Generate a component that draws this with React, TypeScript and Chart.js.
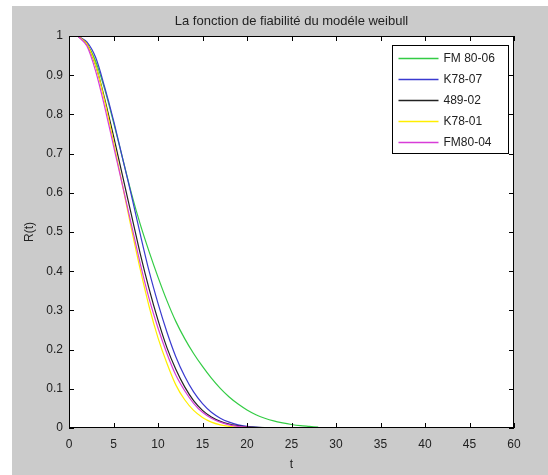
import React, { useEffect, useRef } from "react";
import { Chart, registerables } from "chart.js";

Chart.register(...registerables);

const titleText = "La fonction de fiabilité du modéle weibull";
const xAxisTitle = "t";
const yAxisTitle = "R(t)";
const xTickLabels = ["0", "5", "10", "15", "20", "25", "30", "35", "40", "45", "60"];
const yTickLabels = ["0", "0.1", "0.2", "0.3", "0.4", "0.5", "0.6", "0.7", "0.8", "0.9", "1"];

const seriesLabels = ["FM 80-06", "K78-07", "489-02", "K78-01", "FM80-04"];
const seriesColors = ["#33cc44", "#3a3ad0", "#222222", "#ffee00", "#d83cd8"];

const tFM8006 = [1, 2, 3, 4, 5, 6, 7, 8, 9, 10, 11, 12, 13, 14, 15, 16, 17, 18, 19, 20, 21, 22, 23, 24, 25, 26, 27, 28];
const rFM8006 = [1.0, 0.98, 0.935, 0.865, 0.78, 0.69, 0.6, 0.52, 0.45, 0.385, 0.325, 0.272, 0.228, 0.19, 0.157, 0.127, 0.101, 0.079, 0.061, 0.046, 0.034, 0.025, 0.018, 0.013, 0.009, 0.006, 0.004, 0.002];

const tK7807 = [1, 2, 3, 4, 5, 6, 7, 8, 9, 10, 11, 12, 13, 14, 15, 16, 17, 18, 19, 20, 21, 22];
const rK7807 = [1.0, 0.985, 0.945, 0.87, 0.785, 0.69, 0.595, 0.495, 0.4, 0.318, 0.245, 0.182, 0.132, 0.092, 0.062, 0.04, 0.025, 0.015, 0.008, 0.004, 0.002, 0.001];

const t48902 = [1, 2, 3, 4, 5, 6, 7, 8, 9, 10, 11, 12, 13, 14, 15, 16, 17, 18, 19, 20, 22, 26, 31];
const r48902 = [1.0, 0.98, 0.925, 0.84, 0.745, 0.645, 0.545, 0.445, 0.355, 0.275, 0.205, 0.15, 0.105, 0.07, 0.045, 0.028, 0.017, 0.01, 0.006, 0.003, 0.001, 0.0005, 0];

const tK7801 = [1, 2, 3, 4, 5, 6, 7, 8, 9, 10, 11, 12, 13, 14, 15, 16, 17, 18, 19, 20, 46];
const rK7801 = [1.0, 0.98, 0.925, 0.835, 0.73, 0.62, 0.51, 0.405, 0.31, 0.23, 0.165, 0.11, 0.072, 0.045, 0.027, 0.015, 0.008, 0.004, 0.002, 0.001, 0.001];

const tFM8004 = [1, 2, 3, 4, 5, 6, 7, 8, 9, 10, 11, 12, 13, 14, 15, 16, 17, 18, 19, 20, 21];
const rFM8004 = [1.0, 0.975, 0.91, 0.82, 0.72, 0.62, 0.52, 0.42, 0.33, 0.255, 0.19, 0.135, 0.095, 0.063, 0.04, 0.025, 0.015, 0.008, 0.004, 0.002, 0.001];

const seriesT = [tFM8006, tK7807, t48902, tK7801, tFM8004];
const seriesR = [rFM8006, rK7807, r48902, rK7801, rFM8004];

const FONT = "'Liberation Sans', Arial, sans-serif";

const framePlugin = {
  id: "matlabFrame",
  beforeDraw(chart: any) {
    const { ctx, width, height, chartArea: ca } = chart;
    ctx.save();
    ctx.fillStyle = "#ffffff";
    ctx.fillRect(0, 0, width, height);
    ctx.fillStyle = "#cbcbcb";
    ctx.fillRect(12, 6, width - 12, height - 6);
    ctx.fillStyle = "#ffffff";
    ctx.fillRect(ca.left, ca.top, ca.right - ca.left, ca.bottom - ca.top);
    ctx.restore();
  },
  afterDraw(chart: any) {
    const { ctx, chartArea: ca } = chart;
    const xs = chart.scales.x;
    const ys = chart.scales.y;
    ctx.save();
    ctx.strokeStyle = "#000000";
    ctx.lineWidth = 1;
    ctx.strokeRect(Math.round(ca.left) + 0.5, Math.round(ca.top) + 0.5, Math.round(ca.right - ca.left) - 1, Math.round(ca.bottom - ca.top) - 1);
    const tl = 5;
    ctx.beginPath();
    xs.ticks.forEach((tk: any) => {
      const px = Math.round(xs.getPixelForValue(tk.value)) + 0.5;
      ctx.moveTo(px, ca.bottom);
      ctx.lineTo(px, ca.bottom - tl);
      ctx.moveTo(px, ca.top);
      ctx.lineTo(px, ca.top + tl);
    });
    ys.ticks.forEach((tk: any) => {
      const py = Math.round(ys.getPixelForValue(tk.value)) + 0.5;
      ctx.moveTo(ca.left, py);
      ctx.lineTo(ca.left + tl, py);
      ctx.moveTo(ca.right, py);
      ctx.lineTo(ca.right - tl, py);
    });
    ctx.stroke();

    // legend box inside plot area (top-right)
    const ds = chart.data.datasets;
    const boxW = 116;
    const rowH = 21;
    const boxH = 12 + (ds.length - 1) * rowH + 12;
    const bx = Math.round(ca.right - 6 - boxW) + 0.5;
    const by = Math.round(ca.top + 9) + 0.5;
    ctx.fillStyle = "#ffffff";
    ctx.fillRect(bx, by, boxW, boxH);
    ctx.strokeStyle = "#000000";
    ctx.strokeRect(bx, by, boxW, boxH);
    ctx.font = "12px " + FONT;
    ctx.textBaseline = "middle";
    ctx.textAlign = "left";
    ds.forEach((d: any, i: number) => {
      const yy = Math.round(by + 12 + i * rowH) + 0.5;
      ctx.strokeStyle = d.borderColor;
      ctx.lineWidth = 1.3;
      ctx.beginPath();
      ctx.moveTo(bx + 6, yy);
      ctx.lineTo(bx + 46, yy);
      ctx.stroke();
      ctx.fillStyle = "#222222";
      ctx.fillText(d.label, bx + 51, yy);
    });
    ctx.restore();
  },
};

export default function App() {
  const ref = useRef<HTMLCanvasElement | null>(null);
  useEffect(() => {
    if (!ref.current) return;
    const datasets = seriesLabels.map((label, i) => ({
      label,
      data: seriesT[i].map((t, j) => ({ x: t, y: seriesR[i][j] })),
      borderColor: seriesColors[i],
      backgroundColor: seriesColors[i],
      borderWidth: 1.2,
      pointRadius: 0,
      tension: 0.3,
      fill: false,
      order: seriesLabels.length - i,
    }));
    const chart = new Chart(ref.current, {
      type: "line",
      data: { datasets },
      plugins: [framePlugin],
      options: {
        animation: false,
        responsive: false,
        devicePixelRatio: 1,
        layout: { padding: { left: 0, right: 34, top: 0, bottom: 0 } },
        plugins: {
          legend: { display: false },
          tooltip: { enabled: false },
          title: {
            display: true,
            text: titleText,
            fullSize: false,
            color: "#222222",
            font: { family: FONT, size: 13, weight: "normal" },
            padding: { top: 14, bottom: 6.4 },
          },
        },
        scales: {
          x: {
            type: "linear",
            min: 0,
            max: 50,
            ticks: {
              stepSize: 5,
              color: "#222222",
              font: { family: FONT, size: 12 },
              padding: 9,
              maxRotation: 0,
              autoSkip: false,
              callback: (_v: any, idx: number) => xTickLabels[idx],
            },
            grid: { display: false, drawTicks: false },
            border: { display: false },
            title: {
              display: true,
              text: xAxisTitle,
              color: "#222222",
              font: { family: FONT, size: 12 },
              padding: { top: 4, bottom: 3 },
            },
            afterFit: (s: any) => {
              s.height = 47;
            },
          },
          y: {
            type: "linear",
            min: 0,
            max: 1,
            ticks: {
              stepSize: 0.1,
              color: "#222222",
              font: { family: FONT, size: 12 },
              padding: 6,
              autoSkip: false,
              callback: (_v: any, idx: number) => yTickLabels[idx],
            },
            grid: { display: false, drawTicks: false },
            border: { display: false },
            title: {
              display: true,
              text: yAxisTitle,
              color: "#222222",
              font: { family: FONT, size: 12 },
              padding: { top: 22, bottom: 4 },
            },
            afterFit: (s: any) => {
              s.width = 69;
            },
          },
        },
      },
    });
    return () => chart.destroy();
  }, []);
  return (
    <div style={{ position: "fixed", left: 0, top: 0, width: 548, height: 475 }}>
      <canvas ref={ref} width={548} height={475} />
    </div>
  );
}
